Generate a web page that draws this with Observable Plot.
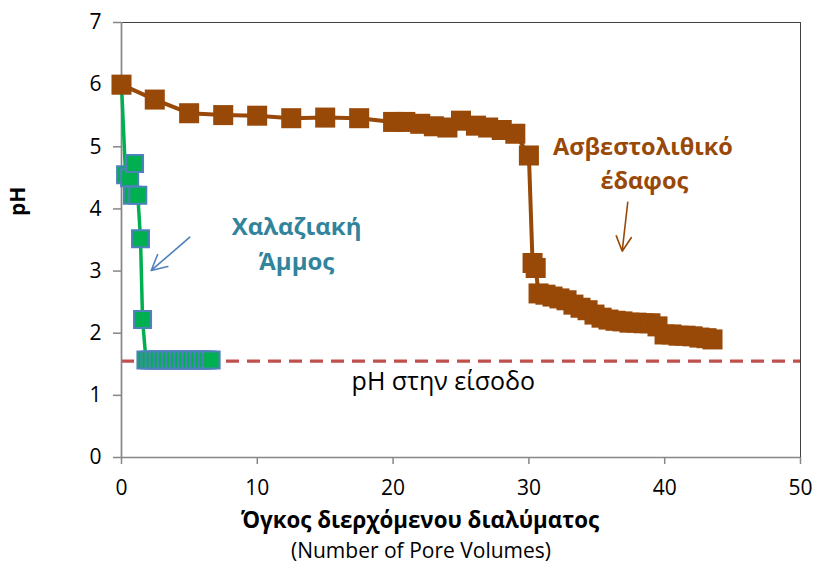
<!DOCTYPE html>
<html>
<head>
<meta charset="utf-8">
<script src="https://cdn.jsdelivr.net/npm/d3@7"></script>
<script src="https://cdn.jsdelivr.net/npm/@observablehq/plot@0.6"></script>
<style>
  html, body { margin: 0; padding: 0; background: #fff; }
</style>
</head>
<body>
<div id="chart"></div>
<script>
// Quartz sand (Χαλαζιακή Άμμος)
const sandX  = [0, 0.3, 0.6, 0.8, 0.96, 1.2, 1.4, 1.55, 1.8, 2.1, 2.4, 2.7, 3.0, 3.3, 3.6, 3.9, 4.2, 4.5, 4.8, 5.1, 5.4, 5.7, 6.0, 6.3, 6.6];
const sandPH = [6.0, 4.55, 4.5, 4.22, 4.73, 4.22, 3.52, 2.22, 1.57, 1.57, 1.57, 1.57, 1.57, 1.57, 1.57, 1.57, 1.57, 1.57, 1.57, 1.57, 1.57, 1.57, 1.57, 1.57, 1.57];
// Calcareous soil (Ασβεστολιθικό έδαφος)
const soilX  = [0, 2.45, 4.98, 7.49, 9.99, 12.5, 15.0, 17.5, 20.0, 20.9, 22.0, 23.0, 24.0, 25.0, 26.1, 27.0, 28.0, 29.0, 30.0, 30.27, 30.5,
                30.71, 31.22, 31.74, 32.25, 32.77, 33.28, 33.8, 34.32, 34.83, 35.35, 35.86, 36.38, 36.89, 37.41, 37.92, 38.44, 38.95, 39.47,
                39.99, 40.5, 41.02, 41.53, 42.05, 42.56, 43.08, 43.52];
const soilPH = [6.0, 5.76, 5.54, 5.51, 5.5, 5.46, 5.47, 5.46, 5.4, 5.4, 5.37, 5.33, 5.31, 5.42, 5.34, 5.31, 5.27, 5.21, 4.86, 3.13, 3.05,
                2.64, 2.62, 2.59, 2.56, 2.53, 2.46, 2.41, 2.37, 2.3, 2.25, 2.22, 2.2, 2.19, 2.17, 2.17, 2.16, 2.16, 2.11,
                1.98, 1.98, 1.96, 1.96, 1.95, 1.93, 1.92, 1.9];
const inputPH = [1.55];
const xTicks = [0, 10, 20, 30, 40, 50];
const yTicks = [0, 1, 2, 3, 4, 5, 6, 7];

const labelTexts = ["Χαλαζιακή", "Άμμος", "Ασβεστολιθικό", "έδαφος", "pH στην είσοδο"];
const labelX = [12.89, 12.89, 38.4, 38.5, 23.7];
const labelY = [3.706, 3.14, 4.99, 4.44, 1.22];
const labelKind = ["sand", "sand", "soil", "soil", "input"];

const arrowX1 = [5.03, 37.28];
const arrowY1 = [3.545, 4.108];
const arrowX2 = [2.19, 36.87];
const arrowY2 = [3.01, 3.32];
const arrowKind = ["sand", "soil"];

const xTitle = "Όγκος διερχόμενου διαλύματος";
const xSubtitle = "(Number of Pore Volumes)";
const yTitle = "pH";

const sand = sandX.map((x, i) => ({x, y: sandPH[i]}));
const soil = soilX.map((x, i) => ({x, y: soilPH[i]}));
const labels = labelTexts.map((t, i) => ({t, x: labelX[i], y: labelY[i], k: labelKind[i]}));
const arrows = arrowX1.map((x1, i) => ({x1, y1: arrowY1[i], x2: arrowX2[i], y2: arrowY2[i], k: arrowKind[i]}));
const kindColor = {sand: "#31849B", soil: "#984807", input: "#000000"};
const arrowColor = {sand: "#4F81BD", soil: "#984807"};

const font = "'Open Sans', 'Noto Sans', sans-serif";

const chart = Plot.plot({
  width: 817,
  height: 569,
  marginLeft: 121,
  marginRight: 17,
  marginTop: 22,
  marginBottom: 112,
  x: {domain: [0, 50]},
  y: {domain: [0, 7]},
  style: {fontFamily: font, background: "#fff", overflow: "visible"},
  marks: [
    Plot.frame({stroke: "#404040", strokeWidth: 1}),
    Plot.ruleY(inputPH, {stroke: "#C0504D", strokeWidth: 3.2, strokeDasharray: "13,8"}),
    Plot.axisX({ticks: xTicks, tickFormat: "d", tickSize: 7, tickPadding: 16, fontSize: 21, stroke: "#868686", strokeWidth: 1.5, fill: "#000", label: null}),
    Plot.axisY({ticks: yTicks, tickFormat: "d", tickSize: 8, tickPadding: 12, fontSize: 21, stroke: "#868686", strokeWidth: 1.5, fill: "#000", label: null}),
    Plot.ruleX([0], {stroke: "#868686", strokeWidth: 1.7}),
    Plot.ruleY([0], {stroke: "#868686", strokeWidth: 1.7}),
    Plot.line(sand, {x: "x", y: "y", stroke: "#00B050", strokeWidth: 3.5}),
    Plot.dot(sand, {x: "x", y: "y", symbol: "square", r: 9.6, fill: "#00B050", stroke: "#4F81BD", strokeWidth: 2}),
    Plot.line(soil, {x: "x", y: "y", stroke: "#984807", strokeWidth: 4}),
    Plot.dot(soil, {x: "x", y: "y", symbol: "square", r: 11.3, fill: "#984807"}),
    Plot.arrow(arrows, {x1: "x1", y1: "y1", x2: "x2", y2: "y2", stroke: d => arrowColor[d.k], strokeWidth: 1.6, headLength: 18, headAngle: 55}),
    Plot.text(labels.filter(d => d.k === "sand"), {x: "x", y: "y", text: "t", fill: d => kindColor[d.k], fontSize: 24, fontWeight: "bold"}),
    Plot.text(labels.filter(d => d.k === "soil"), {x: "x", y: "y", text: "t", fill: d => kindColor[d.k], fontSize: 23.5, fontWeight: "bold"}),
    Plot.text(labels.filter(d => d.k === "input"), {x: "x", y: "y", text: "t", fill: "#000", fontSize: 25}),
    Plot.text([xTitle], {frameAnchor: "bottom", dx: -41, dy: 70, text: d => d, fontSize: 22.3, fontWeight: "bold", fill: "#000"}),
    Plot.text([xSubtitle], {frameAnchor: "bottom", dx: -40, dy: 100, text: d => d, fontSize: 21, fill: "#000"}),
    Plot.text([yTitle], {frameAnchor: "left", dx: -103, dy: -24, rotate: -90, text: d => d, fontSize: 21, fontWeight: "bold", fill: "#000"})
  ]
});
document.getElementById("chart").appendChild(chart);
</script>
</body>
</html>
